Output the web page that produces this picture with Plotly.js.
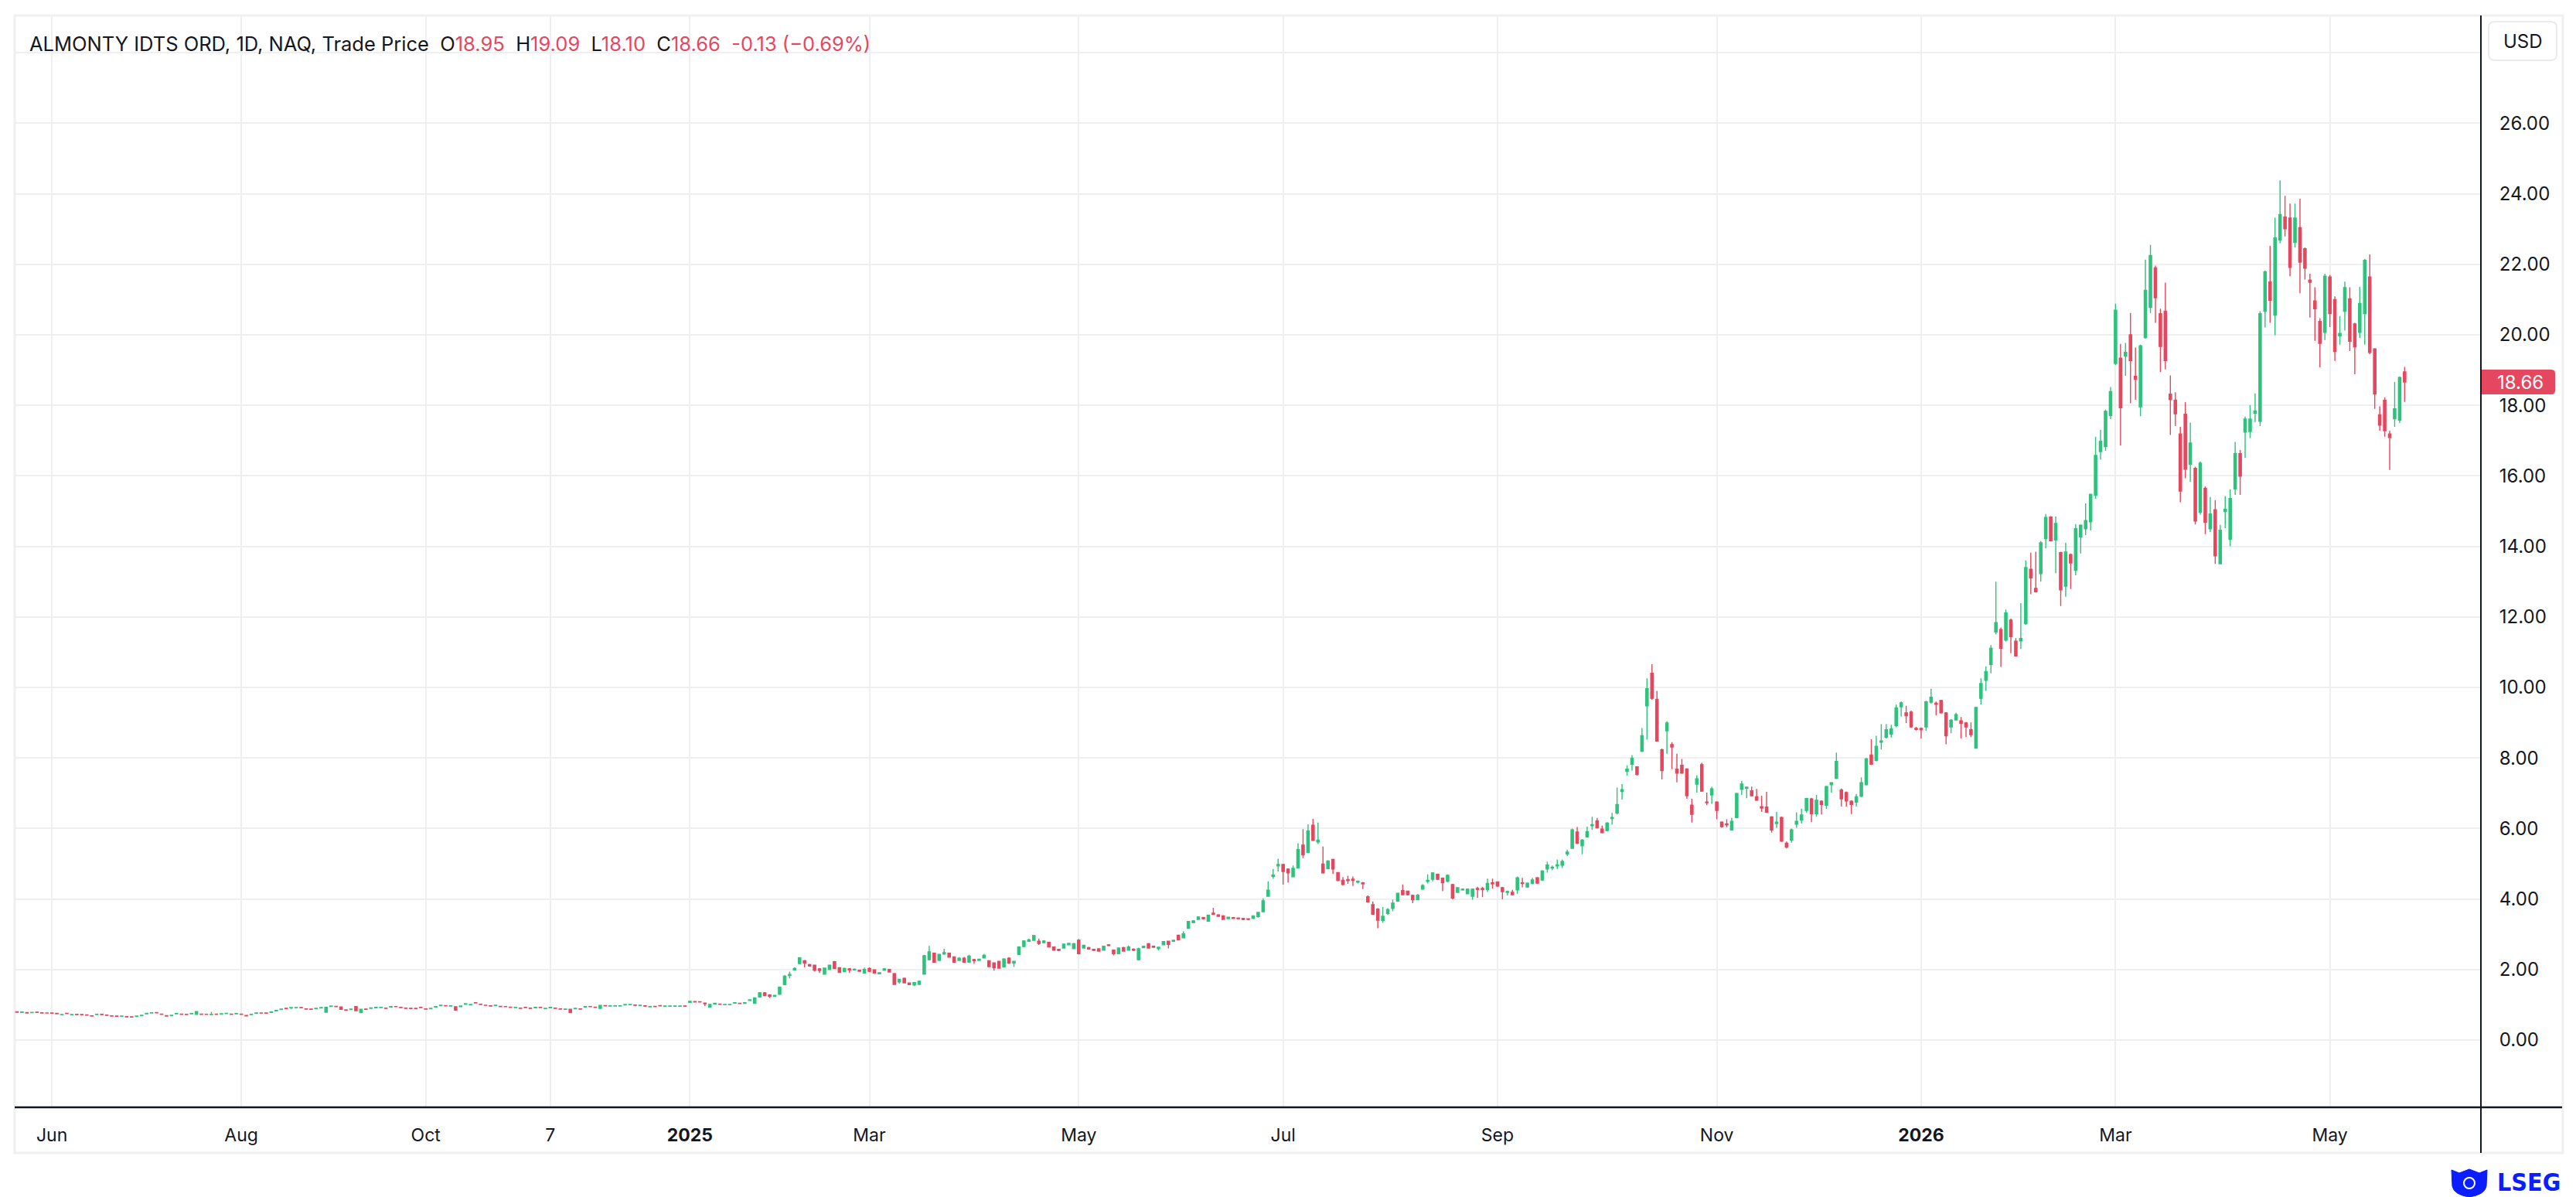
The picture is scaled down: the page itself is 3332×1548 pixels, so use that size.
<!DOCTYPE html>
<html>
<head>
<meta charset="utf-8">
<script src="https://cdn.plot.ly/plotly-3.0.1.min.js"></script>
<style>
  html,body{margin:0;padding:0;background:#ffffff;}
  #chart{width:3332px;height:1548px;}
</style>
</head>
<body>
<div id="chart"></div>
<script>
// ---------------- DATA (daily candles, [open, high, low, close]) ----------------
const candlesMay24toDec24 = [
[0.80,0.81,0.78,0.79],[0.785,0.80,0.78,0.795],[0.78,0.785,0.76,0.765],[0.775,0.79,0.77,0.787],[0.79,0.795,0.78,0.785],
[0.775,0.78,0.76,0.765],[0.77,0.775,0.76,0.765],[0.77,0.775,0.76,0.762],[0.755,0.76,0.74,0.745],[0.715,0.73,0.71,0.725],
[0.755,0.76,0.745,0.748],[0.715,0.73,0.71,0.725],[0.728,0.73,0.715,0.72],[0.725,0.73,0.715,0.718],[0.712,0.715,0.70,0.704],
[0.688,0.69,0.67,0.678],[0.722,0.735,0.72,0.732],[0.728,0.73,0.715,0.72],[0.706,0.71,0.695,0.70],[0.685,0.69,0.675,0.678],
[0.682,0.685,0.672,0.675],[0.672,0.685,0.67,0.68],[0.662,0.665,0.65,0.655],[0.66,0.662,0.65,0.653],[0.67,0.685,0.668,0.682],
[0.69,0.705,0.688,0.702],[0.742,0.758,0.74,0.755],[0.765,0.78,0.762,0.775],[0.778,0.78,0.765,0.77],[0.738,0.74,0.725,0.73],
[0.69,0.692,0.675,0.68],[0.692,0.705,0.69,0.702],[0.742,0.756,0.74,0.752],[0.735,0.738,0.725,0.73],[0.732,0.735,0.72,0.725],
[0.742,0.755,0.74,0.752],[0.73,0.81,0.728,0.805],[0.738,0.74,0.722,0.728],[0.732,0.735,0.722,0.726],[0.722,0.80,0.72,0.732],
[0.733,0.736,0.722,0.727],[0.735,0.75,0.732,0.746],[0.75,0.762,0.748,0.76],[0.738,0.74,0.725,0.73],[0.742,0.755,0.74,0.752],
[0.735,0.738,0.725,0.728],[0.695,0.70,0.68,0.686],[0.72,0.735,0.718,0.732],[0.755,0.77,0.752,0.768],[0.77,0.772,0.76,0.764],
[0.768,0.77,0.758,0.762],[0.785,0.80,0.782,0.798],[0.828,0.845,0.825,0.842],[0.865,0.88,0.862,0.878],[0.902,0.905,0.89,0.893],
[0.91,0.925,0.88,0.92],[0.912,0.925,0.908,0.922],[0.924,0.928,0.912,0.915],[0.882,0.885,0.87,0.876],[0.88,0.882,0.87,0.872],
[0.888,0.90,0.885,0.90],[0.91,0.925,0.905,0.922],[0.79,0.94,0.785,0.93],[0.952,0.97,0.95,0.965],[0.955,0.96,0.94,0.945],
[0.94,0.95,0.86,0.87],[0.855,0.86,0.84,0.845],[0.865,0.88,0.86,0.876],[0.95,0.96,0.82,0.83],[0.78,0.88,0.77,0.87],
[0.88,0.885,0.865,0.872],[0.90,0.918,0.895,0.912],[0.915,0.93,0.912,0.928],[0.92,0.932,0.918,0.928],[0.905,0.91,0.89,0.898],
[0.935,0.955,0.932,0.95],[0.952,0.955,0.94,0.945],[0.928,0.93,0.912,0.918],[0.905,0.908,0.89,0.898],[0.902,0.905,0.89,0.895],
[0.90,0.904,0.89,0.894],[0.93,0.935,0.918,0.922],[0.885,0.89,0.87,0.876],[0.888,0.902,0.885,0.90],[0.935,0.955,0.932,0.95],
[0.972,0.99,0.97,0.988],[0.976,0.98,0.962,0.968],[0.962,0.975,0.958,0.972],[0.945,0.95,0.84,0.85],[0.95,0.968,0.945,0.965],
[1.015,1.035,1.01,1.03],[0.998,1.012,0.995,1.008],[1.058,1.062,1.045,1.05],[1.015,1.02,1.0,1.008],[0.99,0.995,0.98,0.984],
[0.97,0.975,0.958,0.962],[0.975,0.99,0.972,0.986],[0.956,0.96,0.942,0.948],[0.952,0.955,0.942,0.946],[0.932,0.935,0.92,0.925],
[0.918,0.932,0.915,0.928],[0.905,0.908,0.89,0.898],[0.93,0.935,0.918,0.922],[0.904,0.908,0.89,0.896],[0.916,0.93,0.912,0.928],
[0.93,0.934,0.918,0.922],[0.89,0.902,0.886,0.90],[0.915,0.93,0.912,0.928],[0.905,0.908,0.89,0.898],[0.882,0.885,0.87,0.875],
[0.868,0.88,0.865,0.878],[0.875,0.88,0.765,0.78],[0.885,0.90,0.88,0.898],[0.882,0.885,0.87,0.875],[0.935,0.952,0.93,0.95],
[0.952,0.955,0.94,0.945],[0.932,0.935,0.92,0.925],[0.90,0.99,0.895,0.98],[0.976,0.98,0.962,0.968],[0.962,0.975,0.958,0.972],
[0.965,0.976,0.96,0.972],[0.966,0.978,0.962,0.974],[0.996,1.012,0.992,1.008],[1.0,1.014,0.998,1.01],[0.992,0.995,0.96,0.985],
[0.978,0.99,0.975,0.988],[0.97,0.975,0.94,0.962],[0.94,0.952,0.935,0.95],[0.955,0.96,0.942,0.948],[0.975,0.978,0.962,0.968],
[0.955,0.968,0.952,0.965],[0.958,0.968,0.955,0.966],[0.958,0.97,0.955,0.966],[0.96,0.97,0.956,0.967],[0.968,0.972,0.955,0.96]
];
const candlesJan25toJun25 = [
[1.07,1.12,1.06,1.10],[1.09,1.10,1.075,1.08],[1.085,1.09,1.07,1.078],[1.05,1.055,0.965,1.03],[0.93,1.015,0.925,1.01],
[1.02,1.045,1.015,1.04],[1.02,1.03,1.005,1.012],[1.0,1.012,0.995,1.008],[1.003,1.012,1.0,1.01],[1.045,1.065,1.04,1.06],
[1.045,1.05,1.03,1.035],[1.04,1.065,1.035,1.06],[1.12,1.145,1.115,1.14],[1.04,1.20,1.03,1.195],[1.22,1.36,1.21,1.34],
[1.34,1.36,1.24,1.26],[1.28,1.30,1.19,1.24],[1.24,1.28,1.23,1.27],[1.30,1.52,1.29,1.50],[1.57,1.84,1.55,1.81],
[1.83,1.94,1.75,1.86],[1.99,2.06,1.97,2.03],[2.17,2.35,2.15,2.33],[2.25,2.27,2.06,2.18],[2.14,2.16,2.08,2.10],
[2.12,2.14,1.94,1.98],[2.02,2.04,1.90,1.97],[1.87,2.05,1.86,2.04],[2.0,2.14,1.99,2.12],[2.22,2.24,2.02,2.03],
[2.05,2.06,1.91,1.92],[1.94,2.05,1.93,2.03],[2.02,2.04,1.90,1.99],[1.99,2.03,1.98,2.01],[1.98,1.99,1.94,1.95],
[1.90,2.05,1.89,2.0],[2.03,2.06,1.93,1.95],[1.99,2.0,1.88,1.90],[1.88,1.92,1.87,1.91],[1.98,2.04,1.97,2.02],
[2.0,2.01,1.92,1.93],[1.88,1.90,1.57,1.58],[1.65,1.74,1.60,1.72],[1.75,1.77,1.61,1.62],[1.62,1.63,1.56,1.57],
[1.56,1.64,1.53,1.63],[1.58,1.68,1.57,1.67],[1.87,2.42,1.86,2.39],[2.28,2.67,2.26,2.50],[2.46,2.48,2.20,2.21],
[2.26,2.44,2.25,2.43],[2.44,2.59,2.42,2.48],[2.46,2.47,2.34,2.35],[2.36,2.37,2.20,2.21],[2.26,2.35,2.25,2.32],
[2.32,2.36,2.20,2.21],[2.21,2.42,2.20,2.38],[2.28,2.30,2.16,2.25],[2.26,2.30,2.25,2.29],[2.33,2.44,2.32,2.40],
[2.25,2.26,2.07,2.08],[2.19,2.20,1.97,2.05],[2.23,2.25,2.03,2.04],[2.07,2.32,2.06,2.30],[2.32,2.35,2.16,2.18],
[2.18,2.25,2.07,2.23],[2.43,2.66,2.42,2.64],[2.65,2.83,2.64,2.81],[2.80,2.87,2.79,2.84],[2.83,2.98,2.82,2.96],
[2.80,2.87,2.70,2.74],[2.76,2.83,2.75,2.81],[2.77,2.78,2.63,2.64],[2.64,2.65,2.54,2.55],[2.57,2.58,2.52,2.54],
[2.61,2.73,2.60,2.72],[2.70,2.76,2.69,2.74],[2.59,2.75,2.58,2.73],[2.83,2.86,2.43,2.45],[2.61,2.70,2.60,2.69],
[2.62,2.64,2.56,2.58],[2.57,2.58,2.53,2.54],[2.59,2.60,2.51,2.52],[2.55,2.67,2.54,2.66],[2.70,2.72,2.66,2.68],
[2.55,2.56,2.40,2.45],[2.45,2.62,2.44,2.61],[2.62,2.64,2.51,2.52],[2.55,2.68,2.54,2.64],[2.58,2.60,2.52,2.55],
[2.28,2.62,2.26,2.59],[2.62,2.67,2.61,2.66],[2.73,2.75,2.60,2.61],[2.66,2.67,2.62,2.63],[2.59,2.64,2.54,2.63],
[2.70,2.80,2.69,2.79],[2.80,2.82,2.60,2.71],[2.80,2.84,2.79,2.83],[2.97,2.99,2.83,2.84],[2.90,3.08,2.89,3.01],
[3.17,3.37,3.16,3.36],[3.33,3.40,3.31,3.38],[3.42,3.51,3.41,3.49],[3.47,3.49,3.42,3.44]
];
const candlesJul25toSep25 = [
[3.37,3.55,3.36,3.54],[3.60,3.75,3.55,3.56],[3.55,3.57,3.49,3.51],[3.52,3.54,3.41,3.42],[3.44,3.50,3.43,3.48],
[3.47,3.48,3.44,3.45],[3.46,3.47,3.42,3.44],[3.45,3.46,3.40,3.42],[3.44,3.45,3.40,3.42],[3.45,3.53,3.44,3.52],
[3.50,3.63,3.47,3.62],[3.64,4.02,3.63,3.95],[4.08,4.50,4.07,4.25],[4.64,4.85,4.57,4.68],[4.94,5.14,4.78,4.98],
[4.98,5.0,4.41,4.78],[4.85,4.87,4.46,4.74],[4.63,4.95,4.62,4.87],[4.88,5.58,4.87,5.40],[5.53,5.98,5.16,5.25],
[5.32,6.12,5.30,5.93],[6.09,6.27,5.64,5.66],[5.62,6.17,5.56,5.67],[4.99,5.49,4.72,4.74],[4.86,5.10,4.84,5.08],
[5.12,5.14,4.71,4.85],[4.75,4.76,4.50,4.53],[4.53,4.62,4.38,4.41],[4.55,4.66,4.43,4.52],[4.56,4.64,4.37,4.53],
[4.48,4.53,4.44,4.50],[4.46,4.48,4.28,4.43],[4.06,4.10,3.90,3.92],[3.84,3.93,3.55,3.57],[3.71,3.74,3.17,3.40],
[3.39,3.77,3.33,3.51],[3.59,3.74,3.55,3.70],[3.73,3.98,3.65,3.88],[3.94,4.18,3.92,4.16],[4.24,4.41,4.10,4.12],
[4.22,4.23,4.10,4.12],[4.10,4.12,3.88,3.98],[3.98,4.14,3.97,4.11],[4.28,4.42,4.26,4.38],[4.50,4.70,4.44,4.53],
[4.56,4.76,4.50,4.74],[4.70,4.72,4.54,4.56],[4.59,4.61,4.22,4.46],[4.50,4.70,4.48,4.67],[4.41,4.43,3.99,4.03],
[4.19,4.33,4.17,4.32],[4.26,4.30,4.24,4.28],[4.15,4.30,4.14,4.28],[4.08,4.30,3.98,4.28],[4.30,4.35,4.03,4.27],
[4.30,4.35,4.05,4.27],[4.27,4.58,4.20,4.44],[4.46,4.58,4.30,4.43],[4.48,4.50,4.34,4.37],[4.32,4.34,3.99,4.21],
[4.19,4.24,4.10,4.21],[4.19,4.26,4.10,4.12],[4.26,4.63,4.15,4.60],[4.46,4.60,4.33,4.44],[4.34,4.47,4.32,4.45],
[4.44,4.60,4.42,4.54],[4.60,4.62,4.43,4.45],[4.54,4.82,4.52,4.79],[4.85,5.06,4.75,4.96],[4.88,4.95,4.82,4.90],
[4.94,5.12,4.85,4.97],[4.96,5.12,4.88,5.06],[5.28,5.40,5.22,5.33],[5.44,6.00,5.42,5.96],[5.90,6.04,5.56,5.58],
[5.51,5.70,5.27,5.67],[5.76,6.05,5.74,5.91]
];
const candlesSep25toDec25 = [
[6.08,6.33,5.96,6.11],[6.21,6.30,6.0,6.02],[5.98,6.08,5.86,5.88],[5.94,6.18,5.92,6.15],[6.28,6.44,6.11,6.31],
[6.44,7.16,6.40,6.68],[7.05,7.26,6.82,7.10],[7.62,7.79,7.50,7.68],[7.82,8.08,7.64,7.99],[7.75,7.77,7.50,7.53],
[8.19,8.85,8.17,8.63],[9.48,10.26,8.52,9.96],[10.40,10.66,9.65,9.69],[9.66,9.9,8.46,8.48],[8.23,8.27,7.39,7.64],
[8.77,9.04,8.12,8.99],[8.38,8.45,7.68,8.31],[7.68,8.12,7.31,7.57],[7.79,7.97,7.55,7.57],[7.69,7.71,6.84,6.93],
[6.66,6.84,6.17,6.40],[7.26,7.51,7.02,7.41],[7.81,7.86,7.04,7.06],[6.75,7.02,6.66,6.73],[6.95,7.18,6.70,7.12],
[6.75,6.77,6.26,6.51],[6.18,6.20,6.02,6.05],[6.13,6.26,6.03,6.10],[5.96,6.30,5.93,6.20],[6.31,7.01,6.29,6.99],
[7.11,7.35,6.95,7.26],[7.14,7.19,6.86,7.17],[7.07,7.19,6.91,6.93],[6.90,7.12,6.78,6.80],[6.62,6.93,6.47,6.58],
[6.61,7.04,6.44,6.46],[6.33,6.35,5.88,5.96],[6.14,6.47,6.02,6.18],[6.31,6.34,5.62,5.64],[5.58,5.63,5.44,5.47],
[5.67,6.0,5.60,5.96],[6.12,6.46,6.02,6.20],[6.24,6.56,6.14,6.38],[6.51,6.87,6.45,6.85],[6.84,6.87,6.18,6.42],
[6.42,6.95,6.33,6.80],[6.77,6.80,6.40,6.68],[6.66,7.21,6.55,7.19],[7.24,7.31,7.02,7.30],[7.42,8.15,7.40,7.90],
[7.09,7.13,6.62,6.84],[7.02,7.05,6.62,6.78],[6.77,6.80,6.41,6.68],[6.75,6.98,6.62,6.90],[6.91,7.45,6.89,7.30],
[7.24,8.0,7.22,7.97],[8.08,8.53,7.80,7.82],[7.93,8.63,7.90,8.33],[8.45,8.96,8.24,8.48],[8.59,8.96,8.55,8.80],
[8.68,8.94,8.58,8.82],[8.92,9.51,8.87,9.42],[9.45,9.60,9.18,9.56],[9.28,9.48,8.99,9.20],[9.30,9.34,8.86,8.88],
[8.84,8.88,8.78,8.81]
];
const candlesJan26toMay26 = [
[8.84,8.86,8.55,8.80],[8.88,9.62,8.77,9.59],[9.58,9.96,9.54,9.72],[9.55,9.60,9.21,9.52],[9.63,9.65,9.26,9.28],
[9.28,9.30,8.39,8.63],[8.88,9.10,8.70,9.07],[9.08,9.28,9.06,9.23],[9.05,9.16,8.55,8.98],[8.99,9.02,8.59,8.88],
[8.80,9.01,8.59,8.66],[8.28,9.45,8.26,9.43],[9.69,10.26,9.52,10.11],[10.20,10.60,9.9,10.45],[10.65,11.2,10.4,11.11],
[11.57,13.0,11.50,11.84],[11.64,11.7,10.58,11.11],[11.34,12.21,11.30,12.11],[11.91,11.95,10.97,11.44],[11.31,11.40,10.87,10.89],
[11.32,12.39,11.09,11.39],[11.81,13.6,11.77,13.40],[13.35,13.82,12.64,13.11],[12.81,13.85,12.69,12.71],[13.23,14.15,13.0,14.10],
[14.22,14.92,13.95,14.82],[14.83,14.86,14.14,14.16],[14.18,14.85,13.24,14.65],[13.82,13.85,12.31,12.77],[12.87,14.10,12.57,13.84],
[13.77,13.80,12.79,13.53],[13.32,14.63,13.18,14.50],[14.27,14.62,13.80,14.60],[14.50,15.22,14.32,14.73],[14.70,15.50,14.45,15.47],
[15.45,17.11,15.35,16.58],[16.69,17.31,16.46,16.98],[16.83,17.88,16.71,17.83],[17.71,18.52,17.61,18.39],[19.19,20.88,19.14,20.70],
[19.34,19.74,16.86,17.93],[19.40,19.77,18.84,19.50],[20.0,20.62,18.06,19.27],[18.82,19.64,18.16,18.74],[17.96,19.72,17.69,19.69],
[19.92,22.13,19.89,21.26],[20.78,22.55,20.62,22.25],[21.90,21.96,20.34,21.05],[20.60,20.74,18.94,19.67],[20.67,21.48,19.02,19.27],
[18.32,18.85,17.16,18.16],[18.15,18.37,17.41,17.76],[17.19,17.39,15.25,15.57],[17.75,18.09,15.93,16.19],[16.33,17.51,15.83,16.93],
[16.21,16.26,14.62,14.72],[14.97,16.41,14.90,16.36],[15.65,15.70,14.35,14.68],[14.50,15.40,14.40,14.92],[15.04,15.31,13.51,13.73],
[13.51,14.61,13.50,14.46],[14.99,15.42,14.52,15.05],[14.20,15.62,14.0,15.36],[15.63,16.96,15.46,16.63],[16.63,16.74,15.46,15.99],
[17.24,17.68,16.51,17.61],[17.26,18.01,17.07,17.61],[17.78,18.34,17.53,17.84],[17.55,20.67,17.41,20.60],[20.67,21.82,20.21,21.79],
[21.50,22.52,20.34,20.98],[20.56,23.32,19.99,22.75],[22.69,24.38,22.60,23.41],[23.34,23.94,22.79,23.01],[23.31,23.72,21.66,21.91],
[22.62,23.72,22.47,23.31],[23.04,23.86,21.18,22.06],[22.44,22.48,21.57,21.89],[21.55,21.73,20.49,21.49],[20.96,21.35,19.83,20.74],
[20.38,20.47,19.08,19.76],[20.07,21.73,19.85,21.66],[21.64,21.70,20.22,20.60],[21.0,21.09,19.26,19.53],[19.97,20.53,19.72,20.04],
[20.67,21.51,20.12,21.34],[21.02,21.35,19.54,19.82],[20.31,20.34,18.88,19.66],[20.07,21.36,19.91,20.89],[20.60,22.15,19.72,22.11],
[21.64,22.28,19.45,19.50],[19.60,19.62,17.90,18.32],[17.73,17.97,17.28,17.44],[18.14,18.23,17.11,17.28],[17.19,17.28,16.17,17.09],
[17.62,18.66,17.39,17.90],[17.58,18.82,17.50,18.79],[18.95,19.09,18.10,18.66]
];

// x-axis tick labels at candle positions (first session of the month)
const monthTickIndex = [7, 45, 82, 107, 135, 171, 213, 254, 297, 341, 382, 421, 464];
const monthTickLabels = ['Jun','Aug','Oct','7','<b>2025</b>','Mar','May','Jul','Sep','Nov','<b>2026</b>','Mar','May'];
// y-axis ticks
const priceTicks = [0,2,4,6,8,10,12,14,16,18,20,22,24,26,28];
const priceTickLabels = ['0.00','2.00','4.00','6.00','8.00','10.00','12.00','14.00','16.00','18.00','20.00','22.00','24.00','26.00',''];

const instrumentName = 'ALMONTY IDTS ORD, 1D, NAQ, Trade Price';
const currency = 'USD';

// ---------------- BUILD ----------------
const rows = [].concat(candlesMay24toDec24, candlesJan25toJun25, candlesJul25toSep25, candlesSep25toDec25, candlesJan26toMay26);
const idx = rows.map((r, i) => i);
const opens = rows.map(r => r[0]);
const highs = rows.map(r => r[1]);
const lows = rows.map(r => r[2]);
const closes = rows.map(r => r[3]);

const GREEN = '#2EC27E';
const RED = '#E5475E';
const INK = '#131722';
const GRID = '#EFEFEF';
const FONT = 'Inter, "Liberation Sans", Arial, sans-serif';

const W = 3332, H = 1548;
const M = {l: 19, r: 123, t: 21, b: 116};
const PW = W - M.l - M.r, PH = H - M.t - M.b;
const PX = x => (x - M.l) / PW;          // pixel -> paper x
const PY = y => (H - M.b - y) / PH;      // pixel -> paper y

function roundRectPath(x0, y0, x1, y1, rx, ry) {
  return `M${x0 + rx},${y0} L${x1 - rx},${y0} Q${x1},${y0} ${x1},${y0 + ry} L${x1},${y1 - ry} Q${x1},${y1} ${x1 - rx},${y1} ` +
         `L${x0 + rx},${y1} Q${x0},${y1} ${x0},${y1 - ry} L${x0},${y0 + ry} Q${x0},${y0} ${x0 + rx},${y0} Z`;
}

const n = rows.length;
const last = rows[n - 1];
const prevClose = closes[n - 2];
const chg = last[3] - prevClose;
const pct = chg / prevClose * 100;
const fmt = v => v.toFixed(2);
const red = s => `<span style="color:${RED}">${s}</span>`;
const sp = '&nbsp;&nbsp;';
const titleText = `${instrumentName}${sp}O${red(fmt(last[0]))}${sp}H${red(fmt(last[1]))}${sp}L${red(fmt(last[2]))}${sp}C${red(fmt(last[3]))}${sp}` +
  red(`${chg < 0 ? '-' : '+'}${fmt(Math.abs(chg))} (${pct < 0 ? '\u2212' : '+'}${fmt(Math.abs(pct))}%)`);

const trace = {
  type: 'candlestick',
  x: idx, open: opens, high: highs, low: lows, close: closes,
  increasing: {line: {color: GREEN, width: 1.4}, fillcolor: GREEN},
  decreasing: {line: {color: RED, width: 1.4}, fillcolor: RED},
  whiskerwidth: 0,
  hoverinfo: 'none',
  showlegend: false
};

// last-price tag geometry
const yMin = -1.908, yMax = 29.035;
const pxPerUnit = PH / (yMax - yMin);
const lastPx = last[3];
const tagHalf = 16 / pxPerUnit;
const tagR = 5 / pxPerUnit;

const layout = {
  width: W, height: H,
  margin: M,
  paper_bgcolor: '#ffffff',
  plot_bgcolor: '#ffffff',
  font: {family: FONT, color: INK, size: 24},
  showlegend: false,
  xaxis: {
    range: [-0.465, 494.3],
    tickmode: 'array', tickvals: monthTickIndex, ticktext: monthTickLabels,
    showgrid: true, gridcolor: GRID, gridwidth: 2,
    zeroline: false, showline: false,
    ticks: 'outside', ticklen: 15, tickcolor: 'rgba(0,0,0,0)',
    tickfont: {family: FONT, size: 23, color: INK},
    rangeslider: {visible: false},
    fixedrange: true
  },
  yaxis: {
    side: 'right',
    range: [yMin, yMax],
    tickmode: 'array', tickvals: priceTicks, ticktext: priceTickLabels,
    showgrid: true, gridcolor: GRID, gridwidth: 2,
    zeroline: false, showline: false,
    ticks: 'outside', ticklen: 18, tickcolor: 'rgba(0,0,0,0)',
    tickfont: {family: FONT, size: 24, color: INK},
    fixedrange: true
  },
  shapes: [
    // outer frame
    {type: 'rect', xref: 'paper', yref: 'paper', x0: PX(19), x1: PX(3315), y0: PY(1491), y1: PY(20),
     line: {color: '#F0F0F0', width: 3}, fillcolor: 'rgba(0,0,0,0)', layer: 'below'},
    // x axis line (runs under the price scale too)
    {type: 'line', xref: 'paper', yref: 'paper', x0: PX(19), x1: PX(3314), y0: 0, y1: 0,
     line: {color: INK, width: 2.5}},
    // price scale separator
    {type: 'line', xref: 'paper', yref: 'paper', x0: 1, x1: 1, y0: PY(1491), y1: PY(20),
     line: {color: INK, width: 2}},
    // USD box
    {type: 'path', xref: 'paper', yref: 'paper',
     path: roundRectPath(PX(3219), PY(78), PX(3307), PY(28), 8 / PW, 8 / PH),
     line: {color: '#EBEBEB', width: 2}, fillcolor: '#ffffff'},
    // last price tag
    {type: 'path', xref: 'paper', yref: 'y',
     path: `M${PX(3210)},${lastPx - tagHalf} L${PX(3305) - 5 / PW},${lastPx - tagHalf} Q${PX(3305)},${lastPx - tagHalf} ${PX(3305)},${lastPx - tagHalf + tagR} ` +
           `L${PX(3305)},${lastPx + tagHalf - tagR} Q${PX(3305)},${lastPx + tagHalf} ${PX(3305) - 5 / PW},${lastPx + tagHalf} L${PX(3210)},${lastPx + tagHalf} Z`,
     line: {color: RED, width: 0}, fillcolor: RED},
    // LSEG crest (simplified)
    {type: 'path', xref: 'paper', yref: 'paper',
     path: `M${PX(3171)},${PY(1513)} L${PX(3181)},${PY(1517)} L${PX(3194)},${PY(1512)} L${PX(3207)},${PY(1517)} L${PX(3217)},${PY(1513)} ` +
           `L${PX(3216)},${PY(1534)} Q${PX(3214)},${PY(1545)} ${PX(3194)},${PY(1548)} Q${PX(3174)},${PY(1545)} ${PX(3172)},${PY(1534)} Z`,
     line: {color: '#0A1EFF', width: 1}, fillcolor: '#0A1EFF'},
    {type: 'circle', xref: 'paper', yref: 'paper', x0: PX(3187), x1: PX(3201), y0: PY(1537), y1: PY(1523),
     line: {color: '#ffffff', width: 2}, fillcolor: 'rgba(0,0,0,0)'}
  ],
  annotations: [
    {xref: 'paper', yref: 'paper', x: PX(36), y: PY(56), xanchor: 'left', yanchor: 'middle',
     text: titleText, showarrow: false, font: {family: FONT, size: 25.5, color: INK}},
    {xref: 'paper', yref: 'paper', x: PX(3263), y: PY(53), xanchor: 'center', yanchor: 'middle',
     text: currency, showarrow: false, font: {family: FONT, size: 24, color: INK}},
    {xref: 'paper', yref: 'y', x: PX(3228), y: lastPx, xanchor: 'left', yanchor: 'middle',
     text: fmt(lastPx), showarrow: false, font: {family: FONT, size: 24, color: '#ffffff'}},
    {xref: 'paper', yref: 'paper', x: PX(3271), y: PY(1529), xanchor: 'center', yanchor: 'middle',
     text: '<b>LSEG</b>', showarrow: false, font: {family: '"Liberation Sans Narrow", "DejaVu Sans Condensed", "Liberation Sans", Arial', size: 32, color: '#0A1EFF'}}
  ]
};

Plotly.newPlot('chart', [trace], layout, {staticPlot: true, displayModeBar: false});
</script>
</body>
</html>
